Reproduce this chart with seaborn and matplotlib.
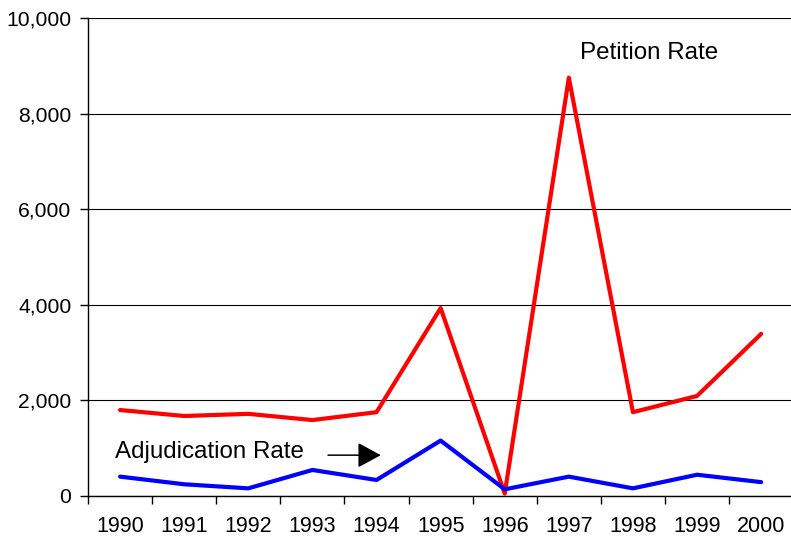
import pandas as pd
import numpy as np
import matplotlib.pyplot as plt
import seaborn as sns

# data
years = ['1990', '1991', '1992', '1993', '1994', '1995', '1996', '1997', '1998', '1999', '2000']
petition_rate = [1790, 1665, 1710, 1580, 1745, 3925, 40, 8750, 1745, 2085, 3385]
adjudication_rate = [395, 235, 150, 535, 325, 1150, 130, 395, 150, 435, 280]

df = pd.DataFrame({
    'pos': list(range(len(years))) * 2,
    'rate': petition_rate + adjudication_rate,
    'series': ['Petition Rate'] * len(years) + ['Adjudication Rate'] * len(years),
})

sns.set_style('white')
plt.rcParams['font.family'] = ['Liberation Sans', 'DejaVu Sans']
plt.rcParams['text.color'] = 'black'
plt.rcParams['xtick.color'] = 'black'
plt.rcParams['ytick.color'] = 'black'
plt.rcParams['xtick.labelcolor'] = 'black'
plt.rcParams['ytick.labelcolor'] = 'black'

fig = plt.figure(figsize=(7.91, 5.41), dpi=100)
ax = fig.add_axes([0.1113, 0.0841, 0.8915, 0.8826])

sns.lineplot(data=df, x='pos', y='rate', hue='series',
             palette={'Petition Rate': '#ff0000', 'Adjudication Rate': '#0000ff'},
             linewidth=3, legend=False, ax=ax)

ax.set_xlim(-0.5, len(years) - 0.5)
ax.set_ylim(0, 10000)

# labels at category centers, tick marks at category boundaries
ax.set_xticks(range(len(years)))
ax.set_xticklabels(years, fontsize=15.5)
ax.tick_params(axis='x', which='major', length=0, pad=15)
ax.set_xticks(np.arange(-0.5, len(years), 1), minor=True)
ax.tick_params(axis='x', which='minor', length=6, width=1, color='black', bottom=True)

ax.set_yticks(range(0, 10001, 2000))
ax.set_yticklabels([f'{v:,}' for v in range(0, 10001, 2000)], fontsize=15.2)
ax.tick_params(axis='y', length=6, width=1, color='black', left=True, pad=6)

ax.yaxis.grid(True, color='black', linewidth=0.8)
ax.set_axisbelow(True)

for side in ['top', 'right']:
    ax.spines[side].set_visible(False)
for side in ['left', 'bottom']:
    ax.spines[side].set_color('black')
    ax.spines[side].set_linewidth(1)

ax.set_xlabel('')
ax.set_ylabel('')

ax.text(-0.08, 912, 'Adjudication Rate', fontsize=17.4, color='black', va='center', ha='left')
ax.annotate('', xy=(4.11, 845), xytext=(3.2, 845),
            arrowprops=dict(arrowstyle='-|>,head_length=1.44,head_width=0.78',
                            mutation_scale=10, color='black', lw=1.1))
ax.text(7.17, 9276, 'Petition Rate', fontsize=17.4, color='black', va='center', ha='left')

fig.savefig('out.png', dpi=100)
